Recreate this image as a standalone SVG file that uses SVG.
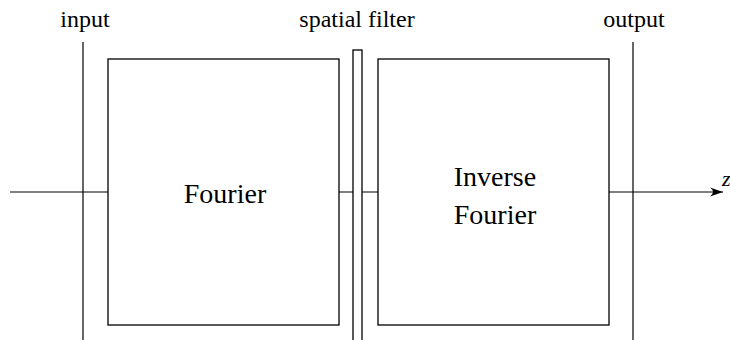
<svg xmlns="http://www.w3.org/2000/svg" width="730" height="340" viewBox="0 0 730 340">
  <style>
    .ln { stroke: #000; stroke-width: 1.2; fill: none; }
    .box { stroke: #000; stroke-width: 1.3; fill: #fff; }
    .lbl { font-family: 'Liberation Serif', 'Times New Roman', Times, serif; font-size: 24px; fill: #000; text-anchor: middle; }
    .big { font-family: 'Liberation Serif', 'Times New Roman', Times, serif; font-size: 28px; fill: #000; text-anchor: middle; }
  </style>
  <defs>
    <marker id="head" markerWidth="14" markerHeight="10" refX="13" refY="5" orient="auto" markerUnits="userSpaceOnUse">
      <path d="M0,0.5 Q6,5 0,9.5 L13,5 Z" fill="#000"/>
    </marker>
  </defs>
  <rect width="730" height="340" fill="#fff"/>

  <!-- optical axis, hidden behind the lens boxes -->
  <g id="connectors">
    <line class="ln" x1="10" y1="192" x2="723" y2="192" marker-end="url(#head)"/>
  </g>
  <text x="722" y="186" font-family="'Liberation Serif', serif" font-style="italic" font-size="22" fill="#000">z</text>

  <g id="input">
    <line class="ln" x1="83" y1="42" x2="83" y2="340"/>
    <text class="lbl" x="85" y="27">input</text>
  </g>

  <g id="fourier">
    <rect class="box" x="108" y="59" width="231" height="266"/>
    <text class="big" x="225" y="203">Fourier</text>
  </g>

  <g id="spatial-filter">
    <rect class="box" x="353" y="50" width="9" height="295"/>
    <text class="lbl" x="357" y="27">spatial filter</text>
  </g>

  <g id="inverse-fourier">
    <rect class="box" x="378" y="59" width="231" height="266"/>
    <text class="big" x="495" y="186">Inverse</text>
    <text class="big" x="495" y="224">Fourier</text>
  </g>

  <g id="output">
    <line class="ln" x1="633" y1="42" x2="633" y2="340"/>
    <text class="lbl" x="634" y="27">output</text>
  </g>
</svg>
